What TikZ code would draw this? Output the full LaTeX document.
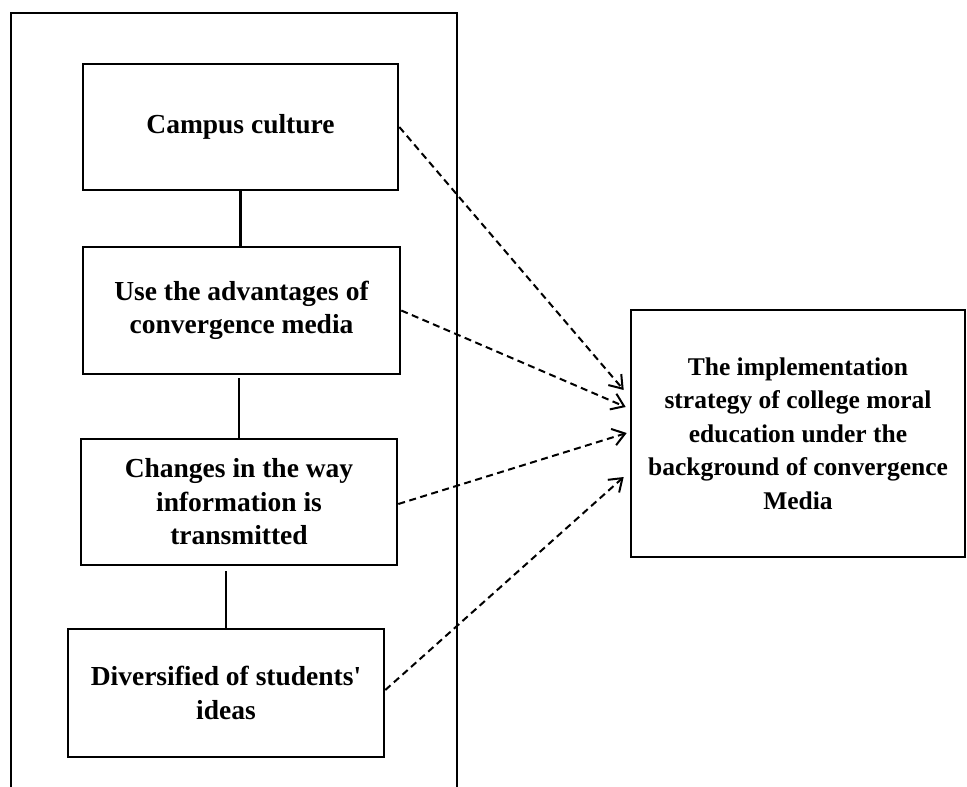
\documentclass[tikz,border=0pt]{standalone}
\usepackage{fontspec}
\setmainfont{Liberation Serif}
\usetikzlibrary{arrows.meta,calc}
\tikzset{
  box/.style={draw=black, line width=2.6pt, inner sep=0pt, align=center,
    font=\fontsize{27.5}{33.5}\selectfont\bfseries},
  bigbox/.style={box, font=\fontsize{25.5}{33.4}\selectfont\bfseries},
  link/.style={draw=black, line width=2.4pt},
  dasharrow/.style={draw=black, line width=2pt, dash pattern=on 7pt off 4.5pt,
    -{Straight Barb[length=12pt,width=17pt,line width=2pt]}},
  frame/.style={draw=black, line width=2.6pt}
}
\begin{document}
\begin{tikzpicture}[x=1pt,y=-1pt]
\useasboundingbox (0,0) rectangle (967,787);
\fill[white] (0,0) rectangle (967,787);
% outer frame (bottom edge off the picture)
\coordinate (fbl) at (11,790);
\coordinate (ftl) at (11,13);
\coordinate (ftr) at (457,13);
\coordinate (fbr) at (457,790);
\draw[frame] (fbl) -- (ftl) -- (ftr) -- (fbr);
% left column
\node[box, minimum width=315pt, minimum height=126pt] (b1) at (240.5,127) {Campus culture};
\node[box, minimum width=317pt, minimum height=127pt] (b2) at (241.5,310.5) {Use the advantages of\\convergence media};
\node[box, minimum width=316pt, minimum height=126pt] (b3) at (239,502) {Changes in the way\\information is\\transmitted};
\node[box, minimum width=316pt, minimum height=128pt] (b4) at (226,693) {Diversified of students\textquotesingle\\ideas};
% right box
\node[bigbox, minimum width=334pt, minimum height=247pt] (r) at (798,433.5) {The implementation\\strategy of college moral\\education under the\\background of convergence\\Media};
% solid links
\draw[link] (b1.south) -- (b1.south |- b2.north);
\draw[link] (b3.north) -- ([yshift=-3pt]b3.north |- b2.south);
\draw[link] (b4.north) -- ([yshift=-5pt]b4.north |- b3.south);
% dashed arrows
\draw[dasharrow] (b1.east) -- ([xshift=-6pt,yshift=43.5pt]r.west);
\draw[dasharrow] (b2.east) -- ([xshift=-4pt,yshift=26.5pt]r.west);
\draw[dasharrow] ([yshift=-2pt]b3.east) -- ([xshift=-3pt,yshift=0.5pt]r.west);
\draw[dasharrow] ([yshift=3pt]b4.east) -- ([xshift=-6pt,yshift=-43.5pt]r.west);
\end{tikzpicture}
\end{document}
